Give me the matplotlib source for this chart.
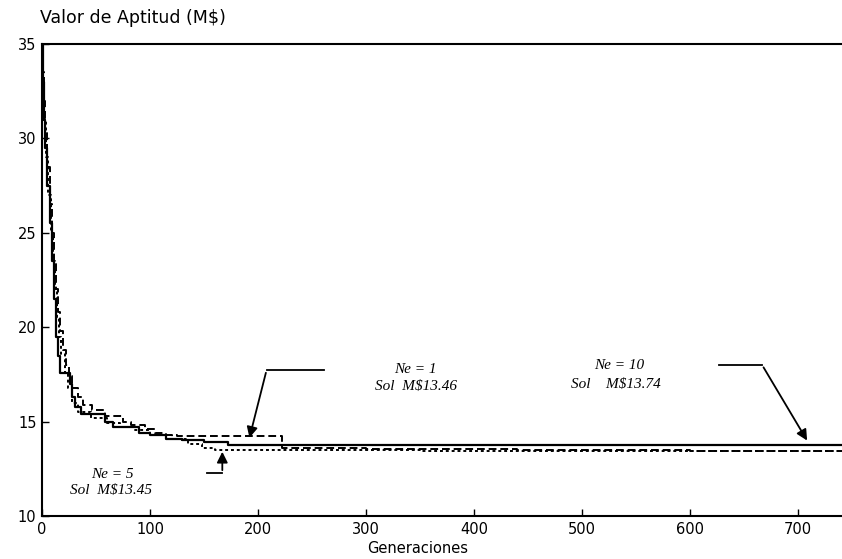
import matplotlib
matplotlib.use("Agg")
import matplotlib.pyplot as plt

# Data: step series (generation, best fitness value)
gen_ne10 = [0, 1, 2, 3, 5, 7, 9, 11, 13, 15, 17, 26, 28, 31, 36, 58, 66, 90, 100, 115, 130, 150, 172, 741]
val_ne10 = [35, 33, 31, 29.5, 27.5, 25.5, 23.5, 21.5, 19.5, 18.5, 17.6, 17.0, 16.3, 15.8, 15.4, 15.0, 14.7, 14.4, 14.3, 14.1, 14.0, 13.9, 13.74, 13.74]

gen_ne1 = [0, 1, 2, 3, 5, 7, 9, 11, 13, 15, 17, 19, 22, 25, 28, 33, 38, 46, 58, 75, 82, 95, 105, 115, 125, 222, 300, 440, 600, 741]
val_ne1 = [35, 33.5, 32, 30.5, 28.5, 26.5, 25, 23.5, 22, 20.8, 19.8, 18.8, 18.0, 17.4, 16.8, 16.3, 15.9, 15.6, 15.3, 15.0, 14.8, 14.6, 14.4, 14.3, 14.25, 13.6, 13.55, 13.5, 13.46, 13.46]

gen_ne5 = [0, 1, 2, 4, 6, 8, 10, 12, 14, 16, 18, 21, 24, 28, 33, 45, 60, 72, 85, 100, 120, 135, 148, 160, 250, 350, 741]
val_ne5 = [35, 33, 31, 29, 27, 25, 23.5, 22, 20.5, 19.5, 18.6, 17.6, 16.8, 16.0, 15.5, 15.2, 14.9, 14.7, 14.55, 14.3, 14.1, 13.8, 13.6, 13.5, 13.47, 13.45, 13.45]

x_ticks = [0, 100, 200, 300, 400, 500, 600, 700]
y_ticks = [10, 15, 20, 25, 30, 35]

fig = plt.figure(figsize=(8.42, 5.59), dpi=100)
ax = fig.add_axes([0.0499, 0.0769, 0.9501, 0.8444])

ax.step(gen_ne10, val_ne10, where="post", color="black", lw=1.6, ls="-")
ax.step(gen_ne1, val_ne1, where="post", color="black", lw=1.4, ls=(0, (4, 2)))
ax.step(gen_ne5, val_ne5, where="post", color="black", lw=1.4, ls=(0, (1.5, 1.5)))

ax.set_xlim(0, 741)
ax.set_ylim(10, 35)
ax.set_xticks(x_ticks)
ax.set_yticks(y_ticks)
ax.tick_params(direction="in", length=5, width=1, labelsize=10.5, pad=4)
ax.spines["right"].set_visible(False)
for s in ["left", "top", "bottom"]:
    ax.spines[s].set_linewidth(1.5)

ax.set_xlabel("Generaciones", fontsize=10.5)
ax.xaxis.set_label_coords(0.47, -0.052)
fig.text(0.048, 0.968, "Valor de Aptitud (M\\$)", fontsize=12.5, ha="left", va="center")

tfont = dict(family="Liberation Serif", style="italic", fontsize=11)

# Ne = 1
ax.text(346, 17.75, "Ne = 1", ha="center", va="center", **tfont)
ax.text(346, 16.85, "Sol  M\\$13.46", ha="center", va="center", **tfont)
ax.plot([261, 208], [17.73, 17.73], color="black", lw=1.3)
ax.annotate("", xy=(191.5, 14.0), xytext=(208, 17.73),
            arrowprops=dict(arrowstyle="-|>", color="black", lw=1.3, mutation_scale=16))

# Ne = 5
ax.text(65, 12.22, "Ne = 5", ha="center", va="center", **tfont)
ax.text(64, 11.38, "Sol  M\\$13.45", ha="center", va="center", **tfont)
ax.plot([153, 167], [12.28, 12.28], color="black", lw=1.3)
ax.annotate("", xy=(167, 13.55), xytext=(167, 12.28),
            arrowprops=dict(arrowstyle="-|>", color="black", lw=1.3, mutation_scale=16))

# Ne = 10
ax.text(535, 17.95, "Ne = 10", ha="center", va="center", **tfont)
ax.text(532, 16.95, "Sol    M\\$13.74", ha="center", va="center", **tfont)
ax.plot([627, 667], [18.0, 18.0], color="black", lw=1.3)
ax.annotate("", xy=(710, 13.87), xytext=(667, 18.0),
            arrowprops=dict(arrowstyle="-|>", color="black", lw=1.3, mutation_scale=16))

fig.savefig("out.png", dpi=100)
